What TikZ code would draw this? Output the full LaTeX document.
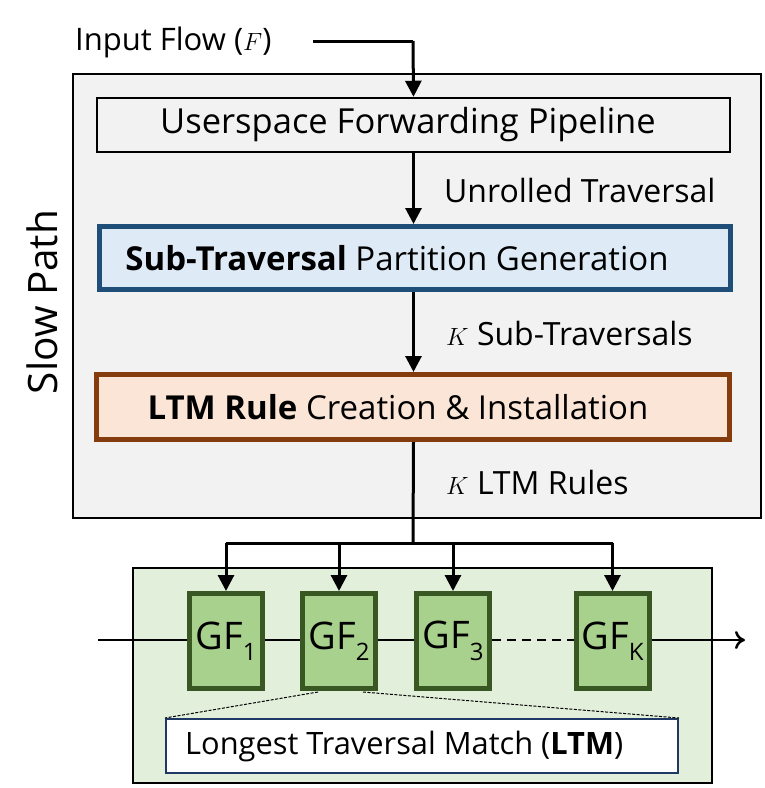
\documentclass[tikz,border=0pt]{standalone}
\usepackage{fontspec}
\setmainfont{Open Sans}
\usepackage{xcolor}
\usetikzlibrary{arrows.meta}
\definecolor{slowfill}{HTML}{F2F2F2}
\definecolor{subfill}{HTML}{DEEBF7}
\definecolor{subdraw}{HTML}{1F4E79}
\definecolor{rulefill}{HTML}{FBE5D6}
\definecolor{ruledraw}{HTML}{843C0C}
\definecolor{fastfill}{HTML}{E2EFDA}
\definecolor{gffill}{HTML}{A9D18E}
\definecolor{gfdraw}{HTML}{385723}
\definecolor{ltmdraw}{HTML}{1F3864}

\begin{document}
\begin{tikzpicture}[x=1pt,y=-1pt,
  every node/.style={inner sep=0pt},
  boxtext/.style={font=\fontsize{33}{33}\selectfont},
  sidetext/.style={anchor=west,font=\fontsize{32}{32}\selectfont},
  gfbox/.style={draw=gfdraw,fill=gffill,line width=5pt,minimum width=73pt,
    minimum height=95pt,font=\fontsize{38}{38}\selectfont},
  flowarrow/.style={line width=3pt,-{Triangle[length=16pt,width=16pt]}}]
  \useasboundingbox (0,0) rectangle (765,788);

  % Slow path
  \node[draw,fill=slowfill,line width=1.5pt,minimum width=688pt,minimum height=444pt] (slow) at (417,296) {};
  \node[rotate=90,font=\fontsize{40.5}{40.5}\selectfont] (slowlabel) at (42,302) {Slow Path};

  % Input flow
  \node[anchor=west,font=\fontsize{31}{31}\selectfont] (input) at (75,42) {Input Flow ($F$)};
  \coordinate (instart) at (313,41);
  \coordinate (inturn) at (413,41);

  % Stages
  \node[draw,fill=slowfill,line width=2.5pt,minimum width=633pt,minimum height=54pt] (usp) at (413.5,125) {};
  \node[boxtext,font=\fontsize{34.5}{34.5}\selectfont] (usptext) at (408,125) {Userspace Forwarding Pipeline};
  \node[draw=subdraw,fill=subfill,line width=5pt,minimum width=631pt,minimum height=63pt] (sub) at (415,258) {};
  \node[boxtext] (subtext) at (397,258) {\textbf{Sub-Traversal} Partition Generation};
  \node[draw=ruledraw,fill=rulefill,line width=5pt,minimum width=633pt,minimum height=65pt] (rule) at (413,407) {};
  \node[boxtext] (ruletext) at (398,407) {\textbf{LTM Rule} Creation \& Installation};

  \draw[line width=3pt] (instart) -- (inturn);
  \draw[flowarrow] (inturn) -- (usp.north);
  \draw[flowarrow] (usp.south) -- (usp.south |- sub.north);
  \draw[flowarrow] (sub.south -| usp.south) -- (usp.south |- rule.north);

  % Edge labels
  \node[sidetext] (unrolled) at (444,190) {Unrolled Traversal};
  \node[sidetext] (ksub) at (446,333) {$K$ Sub-Traversals};
  \node[sidetext] (kltm) at (446,482) {$K$ LTM Rules};

  % Fast path
  \node[draw,fill=fastfill,line width=1.5pt,minimum width=579pt,minimum height=215pt] (fast) at (422.5,675.5) {};
  \node[gfbox] (gf1) at (226,641) {GF\raisebox{-0.3em}{\fontsize{24}{24}\selectfont 1}};
  \node[gfbox] (gf2) at (339,641) {GF\raisebox{-0.3em}{\fontsize{24}{24}\selectfont 2}};
  \node[gfbox] (gf3) at (453,641) {GF\raisebox{-0.3em}{\fontsize{24}{24}\selectfont 3}};
  \node[gfbox] (gfk) at (612.5,641) {GF\raisebox{-0.3em}{\fontsize{24}{24}\selectfont K}};

  % Branching to the GF tables
  \coordinate (branch) at (413,543);
  \draw[line width=3pt] (usp.south |- rule.south) -- (branch);
  \draw[line width=3pt] (gf1.north |- branch) -- (gfk.north |- branch);
  \draw[flowarrow] (gf1.north |- branch) -- (gf1.north);
  \draw[flowarrow] (gf2.north |- branch) -- (gf2.north);
  \draw[flowarrow] (gf3.north |- branch) -- (gf3.north);
  \draw[flowarrow] (gfk.north |- branch) -- (gfk.north);

  % Packet flow through the tables
  \coordinate (flowin) at (98,640);
  \coordinate (flowout) at (745,640);
  \draw[line width=2pt] (flowin) -- (gf1.west |- flowin);
  \draw[line width=2pt] (gf1.east |- flowin) -- (gf2.west |- flowin);
  \draw[line width=2pt] (gf2.east |- flowin) -- (gf3.west |- flowin);
  \draw[line width=2pt,dash pattern=on 9pt off 6pt] (gf3.east |- flowin) -- (gfk.west |- flowin);
  \draw[line width=2.5pt,-{To[length=10pt,width=18pt]}] (gfk.east |- flowin) -- (flowout);

  % Zoom on one table
  \node[draw=ltmdraw,fill=white,line width=2pt,minimum width=512pt,minimum height=54pt] (ltm) at (422,746) {};
  \node[anchor=west,font=\fontsize{30.8}{30.8}\selectfont] (ltmtext) at (185,746) {Longest Traversal Match (\textbf{LTM})};
  \coordinate (zoomleft) at (318,692);
  \coordinate (zoomright) at (363,692);
  \draw[line width=1pt,dash pattern=on 3pt off 1.5pt] (zoomleft) -- (ltm.north west);
  \draw[line width=1pt,dash pattern=on 3pt off 1.5pt] (zoomright) -- (ltm.north east);
\end{tikzpicture}
\end{document}
